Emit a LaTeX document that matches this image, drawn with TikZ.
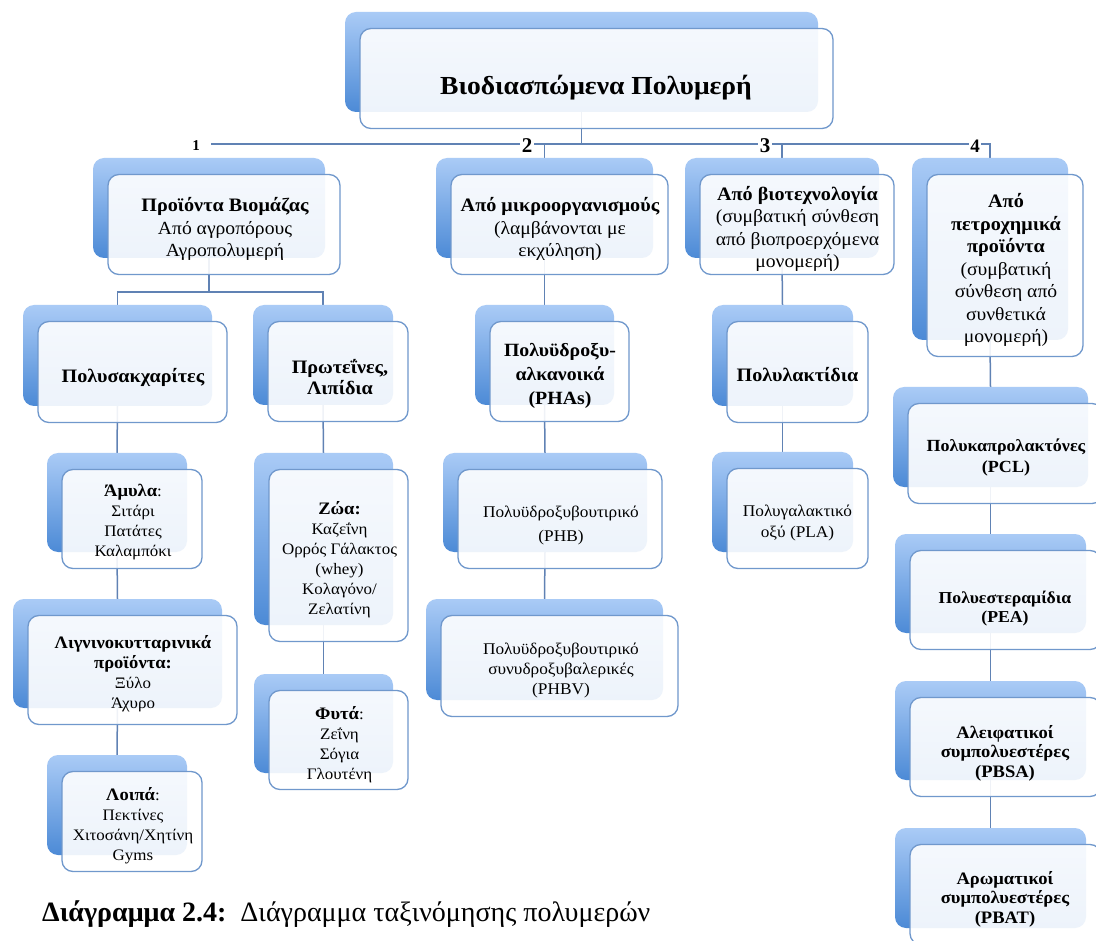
\documentclass[tikz,border=0pt]{standalone}
\usepackage{fontspec}
\setmainfont{Liberation Serif}
\newfontfamily\boxfont{Liberation Serif}[FakeStretch=1.06]
\pgfdeclarelayer{background}
\pgfsetlayers{background,main}
\definecolor{cardtop}{RGB}{170,203,246}
\definecolor{cardbot}{RGB}{76,138,214}
\definecolor{cardline}{RGB}{112,152,204}
\definecolor{linkc}{RGB}{96,130,180}
\tikzset{
  backcard/.style={rectangle, rounded corners=11pt, top color=cardtop, bottom color=cardbot, draw=none, inner sep=0pt},
  frontcard/.style={rectangle, rounded corners=11pt, draw=cardline, line width=1.3pt, fill=white, fill opacity=0.9, inner sep=0pt},
  link/.style={draw=linkc, line width=1.5pt},
  txt/.style={align=center, text=black, inner sep=0pt, font=\boxfont\fontsize{16}{20}\selectfont},
  toptxt/.style={txt, font=\boxfont\fontsize{18.5}{22.5}\selectfont},
  headtxt/.style={txt, font=\boxfont\bfseries\fontsize{19}{22}\selectfont},
  subhead/.style={txt, font=\boxfont\bfseries\fontsize{17.5}{19.5}\selectfont},
  numlbl/.style={fill=white, inner sep=1.5pt, text=black, font=\bfseries\fontsize{21}{21}\selectfont},
}
% bold heading lines inside the text blocks
\newcommand\hd[1]{{\fontsize{19}{22.5}\selectfont\bfseries #1}}
\newcommand\hb[1]{{\fontsize{17.5}{20}\selectfont\bfseries #1}}
% back card (named #1b) given by its corners, front card (named #1) shifted down-right
\newcommand\card[5]{%
  \node[backcard, minimum width={#4pt-#2pt}, minimum height={#5pt-#3pt}] (#1b) at ({(#2+#4)/2},{(#3+#5)/2}) {};
  \node[frontcard, minimum width={#4pt-#2pt}, minimum height={#5pt-#3pt}] (#1) at ({(#2+#4)/2+15},{(#3+#5)/2+16.5}) {};
}
\begin{document}
\begin{tikzpicture}[x=1pt, y=-1pt]
\useasboundingbox (0,0) rectangle (1096,941);
\begin{scope}
\clip (0,0) rectangle (1096,941);
% cards
\card{root}{345}{12}{818}{112}
\card{bio}{93}{158}{325}{258}
\card{micro}{436}{158}{653}{258}
\card{biotech}{685}{158}{879}{258}
\card{petro}{912}{158}{1068}{340}
\card{poly}{23}{305}{212}{406}
\card{prot}{253}{305}{393}{405}
\card{amyl}{47}{453}{187}{552}
\card{lign}{13}{599}{222}{708}
\card{lopa}{47}{755}{187}{855}
\card{zoa}{254}{453}{393}{625}
\card{fyta}{254}{674}{393}{773}
\card{pha}{475}{305}{614}{405}
\card{phb}{443}{453}{647}{552}
\card{phbv}{426}{599}{663}{700}
\card{pla}{712}{305}{853}{406}
\card{plga}{712}{452}{853}{552}
\card{pcl}{893}{387}{1088}{487}
\card{pea}{895}{534}{1086}{633}
\card{pbsa}{895}{681}{1086}{780}
\card{pbat}{895}{828}{1086}{928}
% texts
\node[txt, font=\boxfont\bfseries\fontsize{26}{30}\selectfont] (t-root) at (596,88) {Βιοδιασπώμενα Πολυμερή};
\node[toptxt] (t-bio) at (225,229) {\hd{Προϊόντα Βιομάζας}\\Από αγροπόρους\\Αγροπολυμερή};
\node[toptxt] (t-micro) at (560,229) {\hd{Από μικροοργανισμούς}\\(λαμβάνονται με\\εκχύληση)};
\node[toptxt] (t-biotech) at (797.5,229) {\hd{Από βιοτεχνολογία}\\(συμβατική σύνθεση\\από βιοπροερχόμενα\\μονομερή)};
\node[toptxt] (t-petro) at (1006,270) {\hd{Από}\\\hd{πετροχημικά}\\\hd{προϊόντα}\\(συμβατική\\σύνθεση από\\συνθετικά\\μονομερή)};
\node[headtxt] (t-poly) at (133,377) {Πολυσακχαρίτες};
\node[headtxt, font=\boxfont\bfseries\fontsize{19}{21}\selectfont] (t-prot) at (340,377) {Πρωτεΐνες,\\Λιπίδια};
\node[headtxt, font=\boxfont\bfseries\fontsize{18.7}{24}\selectfont] (t-pha) at (560,376) {Πολυϋδροξυ-\\αλκανοικά\\(PHAs)};
\node[headtxt] (t-pla) at (797.5,375) {Πολυλακτίδια};
\node[subhead, font=\boxfont\bfseries\fontsize{17}{21}\selectfont] (t-pcl) at (1006,457) {Πολυκαπρολακτόνες\\(PCL)};
\node[txt] (t-amyl) at (133,522) {\hb{Άμυλα}:\\Σιτάρι\\Πατάτες\\Καλαμπόκι};
\node[txt] (t-lign) at (133,674) {\hb{Λιγνινοκυτταρινικά}\\\hb{προϊόντα:}\\Ξύλο\\Άχυρο};
\node[txt] (t-lopa) at (133,826) {\hb{Λοιπά}:\\Πεκτίνες\\Χιτοσάνη/Χητίνη\\Gyms};
\node[txt] (t-zoa) at (339.5,560) {\hb{Ζώα:}\\Καζεΐνη\\Ορρός Γάλακτος\\(whey)\\Κολαγόνο/\\Ζελατίνη};
\node[txt] (t-fyta) at (339.5,745) {\hb{Φυτά}:\\Ζεΐνη\\Σόγια\\Γλουτένη};
\node[txt, font=\boxfont\fontsize{16.3}{24}\selectfont] (t-phb) at (561,525) {Πολυϋδροξυβουτιρικό\\(PHB)};
\node[txt, font=\boxfont\fontsize{16.3}{20}\selectfont] (t-phbv) at (561,670) {Πολυϋδροξυβουτιρικό\\συνυδροξυβαλερικές\\(PHBV)};
\node[txt, font=\boxfont\fontsize{16.3}{21}\selectfont] (t-plga) at (797.5,523) {Πολυγαλακτικό\\οξύ (PLA)};
\node[subhead, font=\boxfont\bfseries\fontsize{16.7}{19}\selectfont] (t-pea) at (1005,609) {Πολυεστεραμίδια\\(PEA)};
\node[subhead] (t-pbsa) at (1005,753) {Αλειφατικοί\\συμπολυεστέρες\\(PBSA)};
\node[subhead] (t-pbat) at (1005,899) {Αρωματικοί\\συμπολυεστέρες\\(PBAT)};
% branch numbers
\coordinate (busL) at (211,144);
\node[numlbl, font=\bfseries\fontsize{15}{15}\selectfont] (n1) at (196,146) {1};
\node[numlbl] (n2) at (527,146) {2};
\node[numlbl] (n3) at (765,146) {3};
\node[numlbl, font=\bfseries\fontsize{19}{19}\selectfont] (n4) at (975,146) {4};
% caption
\node[anchor=west, inner sep=0pt, font=\fontsize{28}{30}\selectfont] (cap) at (42,914) {\textbf{Διάγραμμα 2.4:}\ \ Διάγραμμα ταξινόμησης πολυμερών};
\end{scope}
% connectors behind the cards
\begin{pgfonlayer}{background}
\fill[white] (0,0) rectangle (1096,941);
\draw[link] (rootb.south) -- (rootb.south |- busL) -- (busL);
\draw[link] (rootb.south |- busL) -| (petrob.north);
\draw[link] (microb.north) -- (microb.north |- busL);
\draw[link] (biotechb.north) -- (biotechb.north |- busL);
\draw[link] (biob.south) -- ++(0,34) coordinate (split1);
\draw[link] (split1) -| (polyb.north);
\draw[link] (split1) -| (protb.north);
\draw[link] (polyb.south) -- (amylb.north);
\draw[link] (amylb.south) -- (lignb.north);
\draw[link] (lignb.south) -- (lopab.north);
\draw[link] (protb.south) -- (zoab.north);
\draw[link] (zoab.south) -- (fytab.north);
\draw[link] (microb.south) -- (phab.north);
\draw[link] (phab.south) -- (phbb.north);
\draw[link] (phbb.south) -- (phbvb.north);
\draw[link] (biotechb.south) -- (plab.north);
\draw[link] (plab.south) -- (plgab.north);
\draw[link] (petrob.south) -- (pclb.north);
\draw[link] (pclb.south) -- (peab.north);
\draw[link] (peab.south) -- (pbsab.north);
\draw[link] (pbsab.south) -- (pbatb.north);
\end{pgfonlayer}
\end{tikzpicture}
\end{document}
